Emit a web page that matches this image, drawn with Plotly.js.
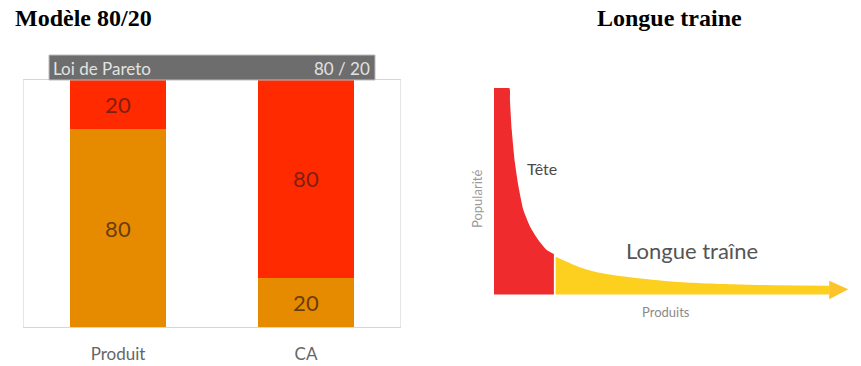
<!DOCTYPE html>
<html>
<head>
<meta charset="utf-8">
<script src="https://cdn.plot.ly/plotly-3.0.1.min.js"></script>
<style>html,body{margin:0;padding:0;background:#fff;}#chart{width:861px;height:366px;}</style>
</head>
<body>
<div id="chart"></div>
<script>
// ---- Left chart: Loi de Pareto 80/20 ----
var categories = ['Produit', 'CA'];
var bottomShare = [80, 20];   // orange part
var topShare = [20, 80];      // red part

// ---- Right chart: Longue traîne ----
var headX = [0, 4.3, 4.5, 5.0, 5.9, 6.9, 8.3, 10.2, 12.5, 14.9, 16.9];
var headY = [100, 100, 94.4, 79.9, 63.9, 52.4, 40.9, 32.8, 26.4, 21.5, 19.6];
var tailX = [17.4, 25.2, 31.3, 40, 53.3, 72.3, 94.6];
var tailY = [18.3, 12.6, 10.0, 8.0, 5.9, 4.7, 4.3];
var arrowX = [94.6, 100, 94.6];
var arrowY = [6.7, 2.5, -2.3];

var barFont = 'Lato, "Open Sans", sans-serif';
var traces = [
  {type:'bar', x:categories, y:bottomShare, marker:{color:'#e68a00'},
   text:bottomShare.map(String), textposition:'inside', insidetextanchor:'middle', textangle:0,
   textfont:{family:barFont, size:22, color:'rgba(70,40,25,0.8)'}, hoverinfo:'skip',
   xaxis:'x', yaxis:'y'},
  {type:'bar', x:categories, y:topShare, marker:{color:'#ff2a00'},
   text:topShare.map(String), textposition:'inside', insidetextanchor:'middle', textangle:0,
   textfont:{family:barFont, size:22, color:'rgba(90,30,20,0.8)'}, hoverinfo:'skip',
   xaxis:'x', yaxis:'y'},
  {type:'scatter', mode:'lines', x:headX, y:headY, fill:'tozeroy', fillcolor:'#ef2b2d',
   line:{width:0, color:'#ef2b2d', shape:'spline', smoothing:0.6}, hoverinfo:'skip', xaxis:'x2', yaxis:'y2'},
  {type:'scatter', mode:'lines', x:tailX, y:tailY, fill:'tozeroy', fillcolor:'#fdcf1f',
   line:{width:0, color:'#fdcf1f', shape:'spline', smoothing:0.8}, hoverinfo:'skip', xaxis:'x2', yaxis:'y2'},
  {type:'scatter', mode:'lines', x:arrowX, y:arrowY, fill:'toself', fillcolor:'#fcc32a',
   line:{width:0, color:'#fcc32a'}, hoverinfo:'skip', xaxis:'x2', yaxis:'y2'}
];

function py(p){ return (366 - p) / 366; }
function px(p){ return p / 861; }

var layout = {
  width:861, height:366, margin:{l:0, r:0, t:0, b:0},
  paper_bgcolor:'#fff', plot_bgcolor:'rgba(0,0,0,0)', showlegend:false,
  barmode:'stack', bargap:0.49,
  xaxis:{domain:[px(24), px(400)], showline:true, mirror:true, linecolor:'#d6d6d6', linewidth:1,
         ticks:'', showgrid:false, zeroline:false, fixedrange:true, ticklabelstandoff:12,
         tickfont:{family:barFont, size:17, color:'#666'}},
  yaxis:{domain:[py(327), py(80)], range:[0, 100], showline:true, mirror:true, linecolor:'#e6e6e6',
         showticklabels:false, ticks:'', showgrid:false, zeroline:false, fixedrange:true},
  xaxis2:{domain:[px(494), px(848.3)], range:[0, 100], showline:false, showticklabels:false, ticks:'',
          showgrid:false, zeroline:false, fixedrange:true, anchor:'y2'},
  yaxis2:{domain:[py(300.7), py(88)], range:[-3, 100], showline:false, showticklabels:false, ticks:'',
          showgrid:false, zeroline:false, fixedrange:true, anchor:'x2'},
  shapes:[
    {type:'rect', xref:'paper', yref:'paper', x0:px(49), x1:px(375), y0:py(80), y1:py(55),
     fillcolor:'#6d6d6d', line:{color:'#bdbdbd', width:1}}
  ],
  annotations:[
    {text:'<b>Modèle 80/20</b>', xref:'paper', yref:'paper', x:px(13), y:py(18), xanchor:'left', yanchor:'middle',
     showarrow:false, font:{family:'"Liberation Serif", "Times New Roman", serif', size:24, color:'#000'}},
    {text:'<b>Longue traine</b>', xref:'paper', yref:'paper', x:px(669), y:py(18), xanchor:'center', yanchor:'middle',
     showarrow:false, font:{family:'"Liberation Serif", "Times New Roman", serif', size:24, color:'#000'}},
    {text:'Loi de Pareto', xref:'paper', yref:'paper', x:px(51), y:py(68), xanchor:'left', yanchor:'middle',
     showarrow:false, font:{family:barFont, size:17, color:'#e2e2e2'}},
    {text:'80 / 20', xref:'paper', yref:'paper', x:px(372), y:py(68), xanchor:'right', yanchor:'middle',
     showarrow:false, font:{family:barFont, size:17, color:'#e2e2e2'}},
    {text:'Tête', xref:'x2', yref:'y2', x:13.5, y:61.2, xanchor:'center', yanchor:'middle',
     showarrow:false, font:{family:barFont, size:16, color:'#4a4a4a'}},
    {text:'Longue traîne', xref:'x2', yref:'y2', x:55.9, y:21.1, xanchor:'center', yanchor:'middle',
     showarrow:false, font:{family:barFont, size:22, color:'#555'}},
    {text:'Produits', xref:'paper', yref:'paper', x:px(666), y:py(312), xanchor:'center', yanchor:'middle',
     showarrow:false, font:{family:barFont, size:13, color:'#8a8a8a'}},
    {text:'Popularité', xref:'paper', yref:'paper', x:px(477), y:py(199), xanchor:'center', yanchor:'middle',
     textangle:-90, showarrow:false, font:{family:barFont, size:13, color:'#9a9a9a'}}
  ]
};

Plotly.newPlot('chart', traces, layout, {displayModeBar:false, staticPlot:true});
</script>
</body>
</html>
